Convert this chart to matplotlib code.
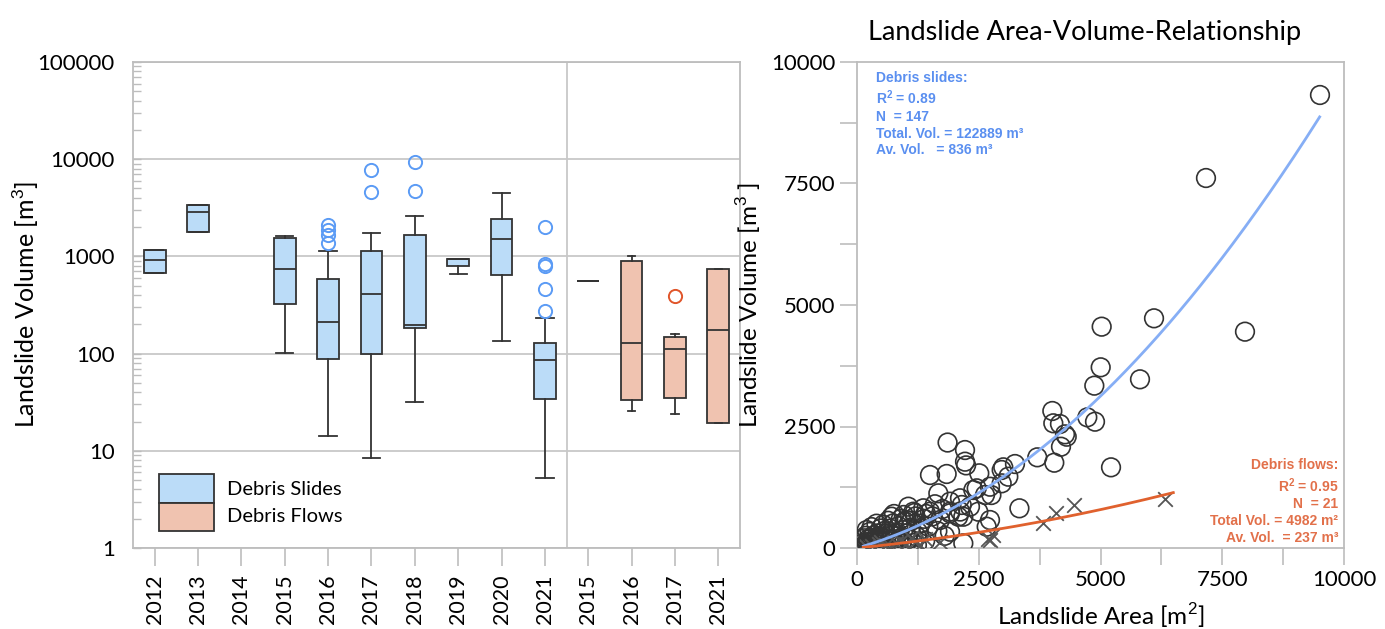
import matplotlib
matplotlib.use("Agg")
import matplotlib.pyplot as plt
import numpy as np
from matplotlib.patches import Rectangle
from matplotlib.ticker import LogLocator, NullFormatter, FixedLocator, MultipleLocator

plt.rcParams['font.family'] = ['Lato', 'DejaVu Sans']
plt.rcParams['mathtext.fontset'] = 'custom'
plt.rcParams['mathtext.bf'] = 'Liberation Sans:bold'
plt.rcParams['mathtext.rm'] = 'Liberation Sans'

# ---------------- box plot statistics (volume, m³) ----------------
slide_years = ["2012", "2013", "2014", "2015", "2016", "2017", "2018", "2019", "2020", "2021"]
slide_lo  = [679, 1774, None, 102, 14.2, 8.5, 32, 659, 134, 5.3]
slide_q1  = [679, 1774, None, 324, 88, 100, 184, 788, 642, 34]
slide_med = [916, 2845, None, 746, 210, 411, 198, 938, 1528, 85]
slide_q3  = [1170, 3380, None, 1563, 589, 1133, 1664, 938, 2410, 129]
slide_hi  = [1170, 3380, None, 1637, 1149, 1746, 2623, 938, 4450, 233]
slide_fliers = [[], [], [], [], [2110, 1875, 1664, 1387], [7660, 4560],
                [9310, 4730], [], [], [2028, 830, 801, 466, 272]]

flow_years = ["2015", "2016", "2017", "2021"]
flow_lo  = [562, 25.8, 23.8, 19.1]
flow_q1  = [562, 33.4, 35.3, 19.1]
flow_med = [562, 128, 112, 173]
flow_q3  = [562, 895, 148, 741]
flow_hi  = [562, 998, 160, 741]
flow_fliers = [[], [], [395], []]

# ---------------- area-volume scatter ----------------
slide_area = [9507, 7166, 7967, 6099, 5024, 5004, 5811, 4873, 5216, 4011, 4031, 4168,
              4271, 4306, 4189, 4729, 4887, 4051, 3702, 3244, 3004, 2971, 2511, 2218,
              2218, 2240, 1860, 3107, 2971, 2731, 2458, 2628, 2760, 3335, 2150, 2320,
              2120, 2183, 2491, 2731, 2663, 2183, 1910, 1910,
              1499, 1841, 1670, 712, 1054, 1157, 1362, 1499, 1910, 2115, 2389, 1910,
              2080, 1704, 1464, 199, 405, 747, 1021, 951, 1226, 678, 1088,
              150, 200, 250, 300, 320, 380, 420, 450, 500, 520, 560, 600, 620, 680,
              700, 750, 800, 850, 880, 920, 980, 1000, 1050, 1100, 1150, 1200, 1250,
              1300, 180, 350, 480, 650, 820, 900, 1180, 260, 540, 760, 960, 1120,
              1380, 1420, 1600, 1550, 1750, 1650, 1800, 1400, 130, 230, 340, 440,
              580, 720, 860, 1000, 1230, 400, 640, 300,
              120, 160, 210, 280, 330, 380, 460, 540]
slide_vol = [9321, 7613, 4451, 4726, 4554, 3718, 3471, 3340, 1660, 2819, 2566, 2551,
             2339, 2290, 2084, 2689, 2599, 1755, 1866, 1728, 1660, 1605, 1537, 2016,
             1776, 1700, 2170, 1467, 1331, 1261, 1228, 1091, 1090, 817, 885, 850,
             750, 644, 747, 576, 438, 97, 335, 750,
             1502, 1523, 1125, 644, 850, 747, 817, 747, 953, 1023, 1193, 714,
             644, 576, 438, 370, 233, 508, 576, 370, 233, 165, 27,
             50, 120, 30, 200, 80, 150, 300, 60, 220, 120, 350, 40, 260, 400,
             180, 90, 300, 450, 200, 120, 550, 300, 180, 420, 100, 650, 330,
             500, 250, 10, 400, 20, 60, 600, 720, 330, 480, 700, 680, 560,
             600, 700, 900, 650, 800, 350, 250, 150, 20, 180, 260, 160,
             300, 260, 150, 60, 60, 500, 560, 430,
             100, 200, 60, 120, 30, 90, 240, 30]

flow_area = [1704, 2696, 2786, 2731, 3826, 4086, 4456, 6324, 300, 450, 600, 800,
             900, 1000, 1200, 1400, 200, 700, 1100, 500, 1300]
flow_vol = [130, 179, 267, 165, 521, 714, 885, 1008, 40, 80, 60, 100,
            150, 90, 120, 180, 20, 30, 200, 130, 60]

# quadratic fits V = c1*A + c2*A^2
slide_fit = [0.282, 6.86e-5]
slide_fit_range = [130, 9500]
flow_fit = [0.0997, 1.166e-5]
flow_fit_range = [130, 6495]

slide_fill = "#BBDCF8"
flow_fill = "#F0C3B0"
edge = "#333333"
grid_gray = "#C8C8C8"
spine_gray = "#BDBDBD"

fig = plt.figure(figsize=(13.85, 6.29), dpi=100)

# ================= left: box plots =================
ax1 = fig.add_axes([133 / 1385, 81 / 629, 607 / 1385, 486 / 629])


def make_stats(lo, q1, med, q3, hi, fliers):
    out = []
    for a, b, c, d, e, f in zip(lo, q1, med, q3, hi, fliers):
        if c is None:
            out.append(None)
        else:
            out.append(dict(whislo=a, q1=b, med=c, q3=d, whishi=e, fliers=f))
    return out


s_stats = make_stats(slide_lo, slide_q1, slide_med, slide_q3, slide_hi, slide_fliers)
f_stats = make_stats(flow_lo, flow_q1, flow_med, flow_q3, flow_hi, flow_fliers)

s_pos = [i for i, s in enumerate(s_stats) if s is not None]
s_use = [s for s in s_stats if s is not None]
f_pos = [len(slide_years) + i for i in range(len(flow_years))]

common = dict(widths=0.5, patch_artist=True, manage_ticks=False,
              whiskerprops=dict(color=edge, lw=1.3),
              medianprops=dict(color=edge, lw=1.3))

ax1.bxp(s_use, positions=s_pos, capwidths=0.4,
        boxprops=dict(facecolor=slide_fill, edgecolor=edge, lw=1.3),
        capprops=dict(color=edge, lw=1.3),
        flierprops=dict(marker='o', markerfacecolor='none', markeredgecolor='#5B9BF5',
                        markersize=9.5, markeredgewidth=1.4),
        **common)
ax1.bxp(f_stats, positions=f_pos, capwidths=0.17,
        boxprops=dict(facecolor=flow_fill, edgecolor=edge, lw=1.3),
        capprops=dict(color=edge, lw=1.3),
        flierprops=dict(marker='o', markerfacecolor='none', markeredgecolor='#E0552A',
                        markersize=9.5, markeredgewidth=1.4),
        **common)

ax1.set_yscale('log')
ax1.set_ylim(1, 100000)
ax1.set_xlim(-0.5, len(slide_years) + len(flow_years) - 0.5)
ax1.yaxis.set_minor_locator(LogLocator(base=10, subs=np.arange(2, 10), numticks=10))
ax1.yaxis.set_minor_formatter(NullFormatter())
ax1.set_yticks([1, 10, 100, 1000, 10000, 100000])
ax1.set_yticklabels(["1", "10", "100", "1000", "10000", "100000"])
ax1.grid(axis='y', which='major', color=grid_gray, lw=1.3, zorder=0)
ax1.set_axisbelow(True)
ax1.axvline(len(slide_years) - 0.5, color=grid_gray, lw=1.3, zorder=0)

ax1.set_xticks(range(len(slide_years) + len(flow_years)))
ax1.set_xticklabels(slide_years + flow_years, rotation=90, fontsize=15.5)
ax1.tick_params(axis='x', direction='out', length=13, color=spine_gray, width=1.2, pad=6)
ax1.tick_params(axis='y', which='both', direction='in', length=6, color=spine_gray,
                width=1.0, labelsize=16, pad=13)
for sp in ax1.spines.values():
    sp.set_color(spine_gray)
    sp.set_linewidth(1.3)
ax1.set_ylabel("Landslide Volume [m$^3$]", fontsize=18)
ax1.yaxis.set_label_coords(-0.152, 0.5)

# legend drawn as two stacked swatches
ax1.add_patch(Rectangle((0.0428, 0.0926), 0.0906, 0.0597, transform=ax1.transAxes,
                        facecolor=slide_fill, edgecolor=edge, lw=1.3, zorder=5))
ax1.add_patch(Rectangle((0.0428, 0.035), 0.0906, 0.0576, transform=ax1.transAxes,
                        facecolor=flow_fill, edgecolor=edge, lw=1.3, zorder=5))
ax1.text(0.155, 0.121, "Debris Slides", transform=ax1.transAxes, fontsize=14.5,
         va='center', ha='left')
ax1.text(0.155, 0.0638, "Debris Flows", transform=ax1.transAxes, fontsize=14.5,
         va='center', ha='left')

# ================= right: scatter =================
ax2 = fig.add_axes([857 / 1385, 81 / 629, 487 / 1385, 486 / 629])
ax2.scatter(slide_area, slide_vol, s=180, facecolors='none', edgecolors='#333333',
            linewidths=1.2, zorder=3)
ax2.scatter(flow_area, flow_vol, s=110, marker='x', color='#555555',
            linewidths=1.3, zorder=3)

xa = np.linspace(slide_fit_range[0], slide_fit_range[1], 300)
ax2.plot(xa, slide_fit[0] * xa + slide_fit[1] * xa ** 2, color='#86AEF5', lw=2, zorder=4)
xf = np.linspace(flow_fit_range[0], flow_fit_range[1], 300)
ax2.plot(xf, flow_fit[0] * xf + flow_fit[1] * xf ** 2, color='#E0612E', lw=2, zorder=4)

ax2.set_xlim(0, 10000)
ax2.set_ylim(0, 10000)
ax2.xaxis.set_major_locator(FixedLocator([0, 2500, 5000, 7500, 10000]))
ax2.yaxis.set_major_locator(FixedLocator([0, 2500, 5000, 7500, 10000]))
ax2.xaxis.set_minor_locator(MultipleLocator(1250))
ax2.yaxis.set_minor_locator(MultipleLocator(1250))
ax2.tick_params(which='both', direction='out', length=12, color=spine_gray, width=1.2,
                labelsize=16)
for sp in ax2.spines.values():
    sp.set_color(spine_gray)
    sp.set_linewidth(1.3)
ax2.set_xlabel("Landslide Area [m$^2$]", fontsize=17.5, labelpad=8)
ax2.set_ylabel("Landslide Volume [m$^3$ ]", fontsize=17.5, labelpad=6)
ax2.set_title("Landslide Area-Volume-Relationship", fontsize=19.5, pad=16, x=0.467)

blue_txt = '#5A8FF0'
ax2.text(0.038, 0.982, "Debris slides:\n$\\mathbf{R^2}$ = 0.89\nN  = 147\n"
         "Total. Vol. = 122889 m³\nAv. Vol.   = 836 m³",
         transform=ax2.transAxes, ha='left', va='top', fontsize=10, color=blue_txt,
         fontweight='bold', family='Liberation Sans', linespacing=1.25)
orange_txt = '#E2704A'
ax2.text(0.988, 0.185, "Debris flows:\n$\\mathbf{R^2}$ = 0.95\nN  = 21\n"
         "Total Vol. = 4982 m²\nAv. Vol.  = 237 m³",
         transform=ax2.transAxes, ha='right', va='top', fontsize=10, color=orange_txt,
         fontweight='bold', family='Liberation Sans', linespacing=1.25,
         multialignment='right')

fig.savefig("out.png", dpi=100)
